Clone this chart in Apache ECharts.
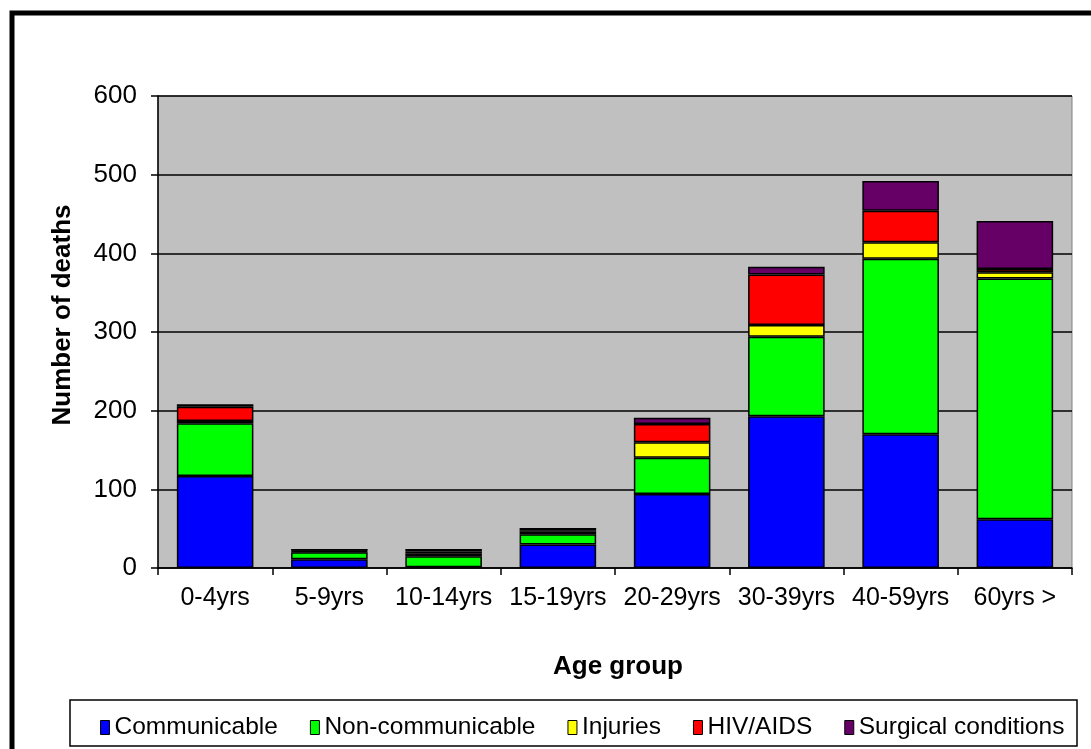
<!DOCTYPE html>
<html>
<head>
<meta charset="utf-8">
<script src="https://cdn.jsdelivr.net/npm/echarts@6/dist/echarts.min.js"></script>
<style>
html,body{margin:0;padding:0;background:#fff;}
#chart{width:1091px;height:749px;}
</style>
</head>
<body>
<div id="chart"></div>
<script>
const categories = ['0-4yrs','5-9yrs','10-14yrs','15-19yrs','20-29yrs','30-39yrs','40-59yrs','60yrs >'];
const communicable = [117, 11, 1, 30, 94, 193, 170, 62];
const nonCommunicable = [67, 9, 14, 13, 46, 101, 223, 306];
const injuries = [3, 1, 3, 3, 20, 15, 21, 8];
const hivAids = [18, 1, 3, 2, 23, 64, 40, 4];
const surgical = [3, 2, 3, 3, 8, 10, 38, 61];
const yTicks = [0, 100, 200, 300, 400, 500, 600];

const FONT = '"Liberation Sans", Arial, sans-serif';
const chart = echarts.init(document.getElementById('chart'));

function mk(name, data, color) {
  return {
    name, type: 'bar', stack: 'total', data,
    barCategoryGap: '33%',
    itemStyle: { color, borderColor: '#000', borderWidth: 1.5 },
    emphasis: { disabled: true }
  };
}

chart.setOption({
  animation: false,
  grid: { left: 158, right: 19, top: 96, bottom: 181, show: true, backgroundColor: '#C0C0C0', borderColor: '#808080', borderWidth: 1 },
  xAxis: {
    type: 'category', data: categories,
    axisLine: { lineStyle: { color: '#000', width: 1.5 } },
    axisTick: { show: true, length: 7, interval: 0, lineStyle: { color: '#000', width: 1.5 } },
    axisLabel: { color: '#000', fontFamily: FONT, fontSize: 25, margin: 18, interval: 0 }
  },
  yAxis: {
    type: 'value', min: yTicks[0], max: yTicks[yTicks.length-1], interval: 100,
    axisLine: { show: true, lineStyle: { color: '#000', width: 1.5 } },
    axisTick: { show: true, length: 7, lineStyle: { color: '#000', width: 1.5 } },
    axisLabel: { color: '#000', fontFamily: FONT, fontSize: 26, margin: 21 },
    splitLine: { show: true, lineStyle: { color: '#000', width: 1.5 } }
  },
  legend: {
    left: 95, top: 710, itemGap: 32, itemWidth: 9, itemHeight: 14, icon: 'rect',
    itemStyle: { borderColor: '#000', borderWidth: 1 },
    textStyle: { color: '#000', fontFamily: FONT, fontSize: 24.5 },
    data: ['Communicable','Non-communicable','Injuries','HIV/AIDS','Surgical conditions']
  },
  graphic: [
    { type: 'rect', shape: { x: 12, y: 13, width: 1120, height: 800 }, style: { fill: 'none', stroke: '#000', lineWidth: 5 }, silent: true, z: 10 },
    { type: 'rect', shape: { x: 70, y: 700, width: 1007, height: 46 }, style: { fill: 'none', stroke: '#000', lineWidth: 1.5 }, silent: true, z: 10 },
    { type: 'text', x: 63, y: 315, rotation: Math.PI/2, style: { text: 'Number of deaths', fill: '#000', font: 'bold 26px ' + FONT, textAlign: 'center', textVerticalAlign: 'middle' }, z: 10 },
    { type: 'text', x: 618, y: 667, style: { text: 'Age group', fill: '#000', font: 'bold 26px ' + FONT, textAlign: 'center', textVerticalAlign: 'middle' }, z: 10 }
  ],
  series: [
    mk('Communicable', communicable, '#0000FF'),
    mk('Non-communicable', nonCommunicable, '#00FF00'),
    mk('Injuries', injuries, '#FFFF00'),
    mk('HIV/AIDS', hivAids, '#FF0000'),
    mk('Surgical conditions', surgical, '#660066')
  ]
});
</script>
</body>
</html>
